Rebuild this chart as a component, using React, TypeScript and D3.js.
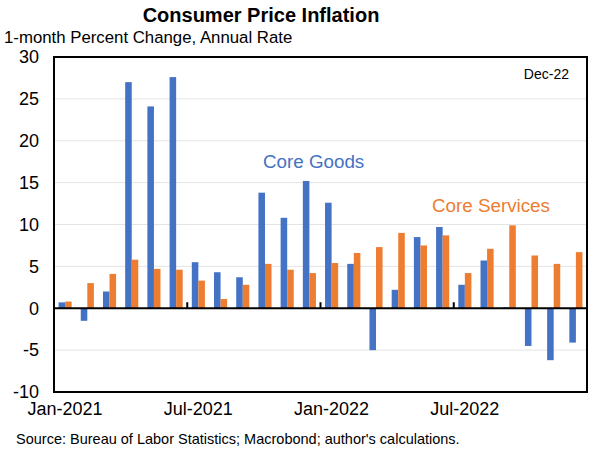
import React from "react";
import * as d3 from "d3";

const months: string[] = [
  "Jan-2021", "Feb-2021", "Mar-2021", "Apr-2021", "May-2021", "Jun-2021",
  "Jul-2021", "Aug-2021", "Sep-2021", "Oct-2021", "Nov-2021", "Dec-2021",
  "Jan-2022", "Feb-2022", "Mar-2022", "Apr-2022", "May-2022", "Jun-2022",
  "Jul-2022", "Aug-2022", "Sep-2022", "Oct-2022", "Nov-2022", "Dec-2022",
];
const coreGoods: number[] = [
  0.7, -1.5, 2.0, 27.0, 24.1, 27.6, 5.5, 4.3, 3.7, 13.8, 10.8, 15.2,
  12.6, 5.3, -5.0, 2.2, 8.5, 9.7, 2.8, 5.7, 0.1, -4.5, -6.2, -4.1,
];
const coreServices: number[] = [
  0.8, 3.0, 4.1, 5.8, 4.7, 4.6, 3.3, 1.1, 2.8, 5.3, 4.6, 4.2,
  5.4, 6.6, 7.3, 9.0, 7.5, 8.7, 4.2, 7.1, 9.9, 6.3, 5.3, 6.7,
];
const yTicks: number[] = [-10, -5, 0, 5, 10, 15, 20, 25, 30];
const xLabelMonths: string[] = ["Jan-2021", "Jul-2021", "Jan-2022", "Jul-2022"];
const xTickMonths: string[] = ["Jul-2021", "Jan-2022", "Jul-2022"];
const seriesKeys: string[] = ["goods", "services"];

const BLUE = "#4472C4";
const ORANGE = "#ED7D31";
const FONT = "'Liberation Sans', Arial, sans-serif";

export default function App() {
  const left = 54, right = 587, top = 57, bottom = 392;
  const x = d3.scaleBand<string>().domain(months).range([left, right]).paddingInner(0.41).paddingOuter(0.205);
  const x1 = d3.scaleBand<string>().domain(seriesKeys).range([0, x.bandwidth()]).padding(0);
  const y = d3.scaleLinear().domain([-10, 30]).range([bottom, top]);
  const step = x.step();
  const y0 = y(0);

  const bar = (m: string, key: string, v: number, color: string) => (
    <rect
      key={m + key}
      x={(x(m) as number) + (x1(key) as number)}
      y={Math.min(y(v), y0)}
      width={x1.bandwidth()}
      height={Math.abs(y(v) - y0)}
      fill={color}
    />
  );

  return (
    <svg width={600} height={450} style={{ position: "absolute", left: 0, top: 0, background: "#fff" }} fontFamily={FONT}>
      <rect x={0} y={0} width={600} height={450} fill="#fff" />
      <text x={261} y={22} textAnchor="middle" fontSize={20} fontWeight="bold">Consumer Price Inflation</text>
      <text x={4} y={43} fontSize={16.8}>1-month Percent Change, Annual Rate</text>

      {yTicks.filter((t) => t !== 0 && t !== 30 && t !== -10).map((t) => (
        <line key={"g" + t} x1={left} x2={right} y1={y(t)} y2={y(t)} stroke="#e4e4e4" strokeWidth={1} />
      ))}

      {months.map((m, i) => bar(m, "goods", coreGoods[i], BLUE))}
      {months.map((m, i) => bar(m, "services", coreServices[i], ORANGE))}

      <line x1={left} x2={right} y1={y0} y2={y0} stroke="#000" strokeWidth={2} />
      {xTickMonths.map((m) => {
        const xx = (x(m) as number) - (step - x.bandwidth()) / 2;
        return <line key={"t" + m} x1={xx} x2={xx} y1={y0} y2={y0 - 6} stroke="#000" strokeWidth={2} />;
      })}

      <rect x={left} y={top} width={right - left} height={bottom - top} fill="none" stroke="#000" strokeWidth={2} />

      {yTicks.map((t) => (
        <text key={"y" + t} x={39} y={y(t)} dy="0.35em" textAnchor="end" fontSize={18}>{t}</text>
      ))}
      {xLabelMonths.map((m) => (
        <text key={"x" + m} x={(x(m) as number) + x.bandwidth() / 2} y={415} textAnchor="middle" fontSize={18}>{m}</text>
      ))}

      <text x={569} y={79} textAnchor="end" fontSize={14}>Dec-22</text>
      <text x={263} y={168} fontSize={18.8} fill={BLUE}>Core Goods</text>
      <text x={432} y={212} fontSize={18.8} fill={ORANGE}>Core Services</text>

      <text x={16} y={444} fontSize={14.5}>Source: Bureau of Labor Statistics; Macrobond; author's calculations.</text>
    </svg>
  );
}
